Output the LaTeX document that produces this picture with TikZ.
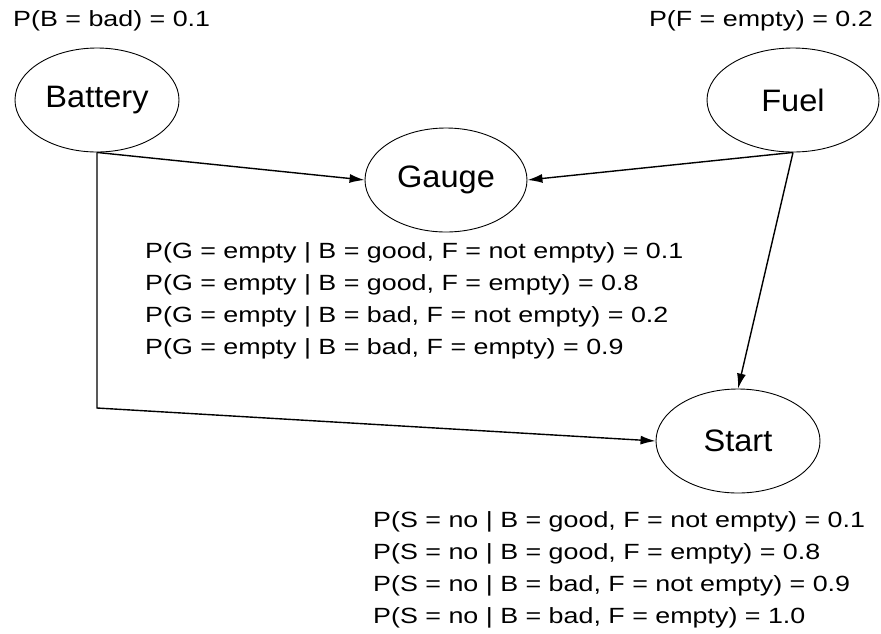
\documentclass[tikz,border=0pt]{standalone}
\usepackage{fontspec}
\setmainfont{Liberation Sans}
\newfontfamily\probfont[FakeStretch=1.22]{Liberation Sans}
\newfontfamily\varfont[FakeStretch=1.05]{Liberation Sans}
\usetikzlibrary{shapes.geometric,arrows.meta}
\begin{document}
\begin{tikzpicture}[x=1pt,y=-1pt,
  var/.style={draw,ellipse,line width=0.9pt,inner sep=0pt,minimum width=164pt,minimum height=104pt,font=\varfont\fontsize{31}{34}\selectfont},
  prob/.style={anchor=west,inner sep=0pt,font=\probfont\fontsize{22}{25}\selectfont},
  conn/.style={line width=1.4pt,-{Latex[length=15pt,width=9pt]}}]
\useasboundingbox (0,0) rectangle (881,633);
\fill[white] (0,0) rectangle (881,633);
\node[var] (bat) at (97,100) {Battery};
\node[var,minimum width=172pt] (fuel) at (793,100) {Fuel};
\node[var,minimum width=162pt] (gau) at (446,180) {Gauge};
\node[var] (sta) at (738,441) {Start};
\node[prob] (pb) at (13,21) {P(B = bad) = 0.1};
\node[prob,anchor=east] (pf) at (873,21) {P(F = empty) = 0.2};
\node[prob] (g1) at (145,253) {P(G = empty | B = good, F = not empty) = 0.1};
\node[prob] (g2) at (145,285) {P(G = empty | B = good, F = empty) = 0.8};
\node[prob] (g3) at (145,317) {P(G = empty | B = bad, F = not empty) = 0.2};
\node[prob] (g4) at (145,349) {P(G = empty | B = bad, F = empty) = 0.9};
\node[prob] (s1) at (373,522) {P(S = no | B = good, F = not empty) = 0.1};
\node[prob] (s2) at (373,554) {P(S = no | B = good, F = empty) = 0.8};
\node[prob] (s3) at (373,586) {P(S = no | B = bad, F = not empty) = 0.9};
\node[prob] (s4) at (373,618) {P(S = no | B = bad, F = empty) = 1.0};
\coordinate (corner) at (97,408);
\draw[conn] (bat.south) -- (gau.west);
\draw[conn] (fuel.south) -- (gau.east);
\draw[conn] (fuel.south) -- (sta.north);
\draw[conn] (bat.south) -- (corner) -- (sta.west);
\end{tikzpicture}
\end{document}
